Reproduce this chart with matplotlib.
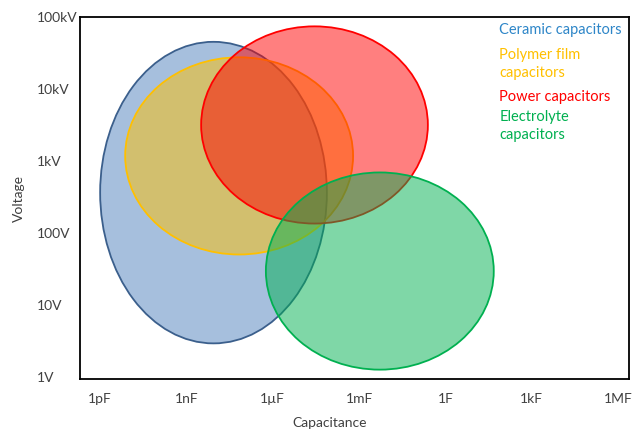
import matplotlib
matplotlib.use("Agg")
import matplotlib.pyplot as plt
from matplotlib.patches import Ellipse

plt.rcParams['font.family'] = ['Lato', 'DejaVu Sans']

# Capacitance axis: decades of farads; voltage axis: decades of volts
cap_ticks = [-12, -9, -6, -3, 0, 3, 6]
cap_labels = ["1pF", "1nF", "1µF", "1mF", "1F", "1kF", "1MF"]
volt_ticks = [0, 1, 2, 3, 4, 5]
volt_labels = ["1V", "10V", "100V", "1kV", "10kV", "100kV"]

# Capacitor families: centre (log10 C, log10 V) and extent in decades
families = ["Ceramic capacitors", "Polymer film\ncapacitors", "Power capacitors", "Electrolyte\ncapacitors"]
center_c = [-8.06, -7.17, -4.55, -2.28]
center_v = [2.56, 3.07, 3.50, 1.47]
span_c = [7.88, 7.92, 7.88, 7.92]
span_v = [4.19, 2.74, 2.74, 2.74]

fill_colors = ["#4F81BD", "#FFC000", "#FF0000", "#00B050"]
edge_colors = ["#3B5F8C", "#FFC000", "#FF0000", "#00B050"]
text_colors = ["#2E86C8", "#FFC000", "#FF0000", "#00B050"]

fig = plt.figure(figsize=(6.35, 4.3), dpi=100)
ax = fig.add_axes([80 / 635, 51 / 430, 549 / 635, 362 / 430])

for cx, cy, w, h, fc, ec in zip(center_c, center_v, span_c, span_v, fill_colors, edge_colors):
    e = Ellipse((cx, cy), w, h, facecolor=matplotlib.colors.to_rgba(fc, 0.5),
                edgecolor=ec, linewidth=1.3)
    ax.add_patch(e)

ax.set_xlim(-12.7, 6.38)
ax.set_ylim(-0.03, 5.0)

ax.set_xticks(cap_ticks)
ax.set_xticklabels(cap_labels, fontsize=10, color="#404040")
ax.set_yticks(volt_ticks)
ax.set_yticklabels(volt_labels, fontsize=10, color="#404040")
for lbl in ax.get_yticklabels():
    lbl.set_horizontalalignment("left")
ax.tick_params(axis="y", length=0, pad=31)
ax.tick_params(axis="x", length=0, pad=10)

for sp in ax.spines.values():
    sp.set_linewidth(1.3)
    sp.set_color("black")

ax.set_xlabel("Capacitance", fontsize=10, color="#404040")
ax.xaxis.set_label_coords(0.455, -0.105)
ax.set_ylabel("Voltage", fontsize=10, color="#404040")
ax.yaxis.set_label_coords(-0.1, 0.5)

# Legend written as coloured text in the upper right corner
legend_y = [0.964, 0.869, 0.779, 0.700]
for name, col, yy in zip(families, text_colors, legend_y):
    ax.text(0.764, yy, name, transform=ax.transAxes, color=col, fontsize=10.5,
            va="center", ha="left", linespacing=1.35)

fig.savefig("out.png", dpi=100)
